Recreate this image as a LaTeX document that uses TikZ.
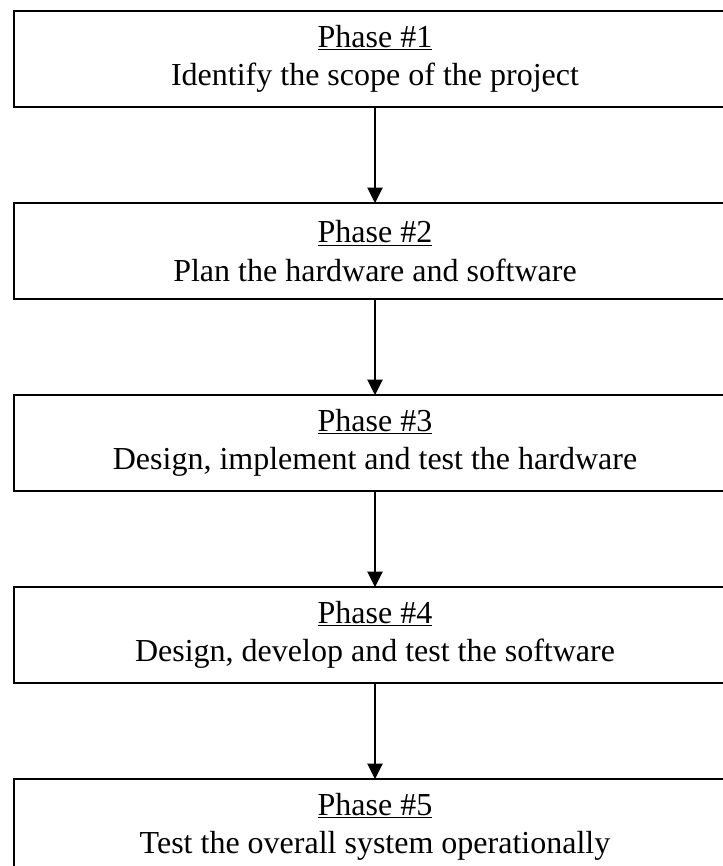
\documentclass[tikz,border=0pt]{standalone}
\usepackage{fontspec}
\setmainfont{Liberation Serif}
\usetikzlibrary{arrows.meta}
\usetikzlibrary{positioning}
\tikzset{phase/.style = {draw, line width=1.3pt, outer sep=0pt,
                         minimum width=541.5pt, minimum height=72pt,
                         align=center,
                         font=\fontsize{24}{29}\selectfont},
         flow/.style  = {line width=0.8pt,
                         -{Triangle[length=11.5pt, width=11.5pt]}}}

\begin{document}
\begin{tikzpicture}[x=0.75pt, y=-0.75pt, node distance=72pt]
    \useasboundingbox (0, 0) rectangle (723, 866);
    \clip (0, 0) rectangle (723, 866);

    \node [phase] (phase1) at (375, 59)
      {\underline{Phase \#1}\\Identify the scope of the project};
    \node [phase, below=of phase1] (phase2)
      {\underline{Phase \#2}\\Plan the hardware and software};
    \node [phase, below=of phase2] (phase3)
      {\underline{Phase \#3}\\Design, implement and test the hardware};
    \node [phase, below=of phase3] (phase4)
      {\underline{Phase \#4}\\Design, develop and test the software};
    \node [phase, below=of phase4] (phase5)
      {\underline{Phase \#5}\\Test the overall system operationally};

    \foreach \a/\b in {1/2, 2/3, 3/4, 4/5} {
      \draw [flow] (phase\a) -- (phase\b);
    };
  \end{tikzpicture}
\end{document}
